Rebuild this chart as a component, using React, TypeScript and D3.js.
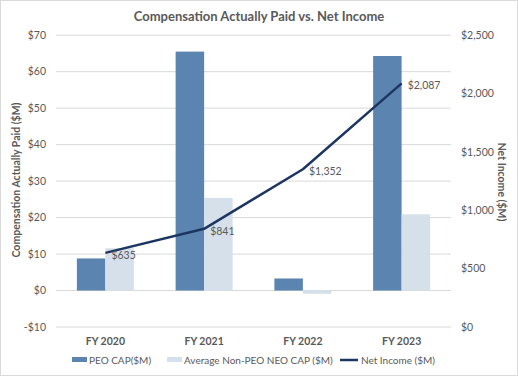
import React from "react";
import * as d3 from "d3";

const categories = ["FY 2020", "FY 2021", "FY 2022", "FY 2023"];
const peoCap = [8.8, 65.5, 3.3, 64.3];
const neoCap = [11.6, 25.4, -0.9, 20.9];
const netIncome = [635, 841, 1352, 2087];
const netIncomeLabels = ["$635", "$841", "$1,352", "$2,087"];
const leftTicks = [-10, 0, 10, 20, 30, 40, 50, 60, 70];
const rightTicks = [0, 500, 1000, 1500, 2000, 2500];
const seriesNames = ["PEO CAP($M)", "Average Non-PEO NEO CAP ($M)", "Net Income ($M)"];

const W = 518, H = 376;
const FONT = "Lato, 'Open Sans', 'Liberation Sans', sans-serif";
const C_PEO = "#5B84B0";
const C_NEO = "#D6E0EB";
const C_LINE = "#1D3661";
const C_TEXT = "#595959";
const C_GRID = "#D9D9D9";

export default function App() {
  const x0 = 56, x1 = 451;
  const yL = d3.scaleLinear().domain([-10, 70]).range([327, 35.2]);
  const yR = d3.scaleLinear().domain([0, 2500]).range([327, 35.2]);
  const xb = d3.scaleBand().domain(categories).range([x0, x1]).paddingInner(0).paddingOuter(0);
  const bw = 28.5;
  const cx = (c: string) => (xb(c) as number) + xb.bandwidth() / 2;
  const line = d3.line<number>().x((_, i) => cx(categories[i])).y((d) => yR(d));

  return (
    <svg width={W} height={H} style={{ position: "absolute", left: 0, top: 0 }} fontFamily={FONT}>
      <rect x={0.5} y={0.5} width={W - 1} height={H - 1} fill="#fff" stroke={C_GRID} />
      <text x={259} y={21} textAnchor="middle" fontSize={13} fontWeight="bold" fill={C_TEXT}>
        Compensation Actually Paid vs. Net Income
      </text>
      {leftTicks.map((t) => (
        <g key={t}>
          <line x1={x0} x2={x1} y1={yL(t)} y2={yL(t)} stroke={C_GRID} strokeWidth={1} />
          <text x={46} y={yL(t)} dy="0.35em" textAnchor="end" fontSize={10.5} fill={C_TEXT}>
            {t < 0 ? `-$${-t}` : `$${t}`}
          </text>
        </g>
      ))}
      {rightTicks.map((t) => (
        <text key={t} x={461} y={yR(t)} dy="0.35em" textAnchor="start" fontSize={10.5} fill={C_TEXT}>
          {"$" + d3.format(",")(t)}
        </text>
      ))}
      <text transform={`translate(20,180) rotate(-90)`} textAnchor="middle" fontSize={10.5} fontWeight="bold" fill={C_TEXT}>
        Compensation Actually Paid ($M)
      </text>
      <text transform={`translate(498,182) rotate(90)`} textAnchor="middle" fontSize={10.5} fontWeight="bold" fill={C_TEXT}>
        Net Income ($M)
      </text>
      {categories.map((c, i) => (
        <g key={c}>
          <rect x={cx(c) - bw} width={bw} y={Math.min(yL(peoCap[i]), yL(0))} height={Math.abs(yL(peoCap[i]) - yL(0))} fill={C_PEO} />
          <rect x={cx(c)} width={bw} y={Math.min(yL(neoCap[i]), yL(0))} height={Math.abs(yL(neoCap[i]) - yL(0))} fill={C_NEO} />
          <text x={cx(c)} y={341} dy="0.35em" textAnchor="middle" fontSize={10.5} fontWeight="bold" fill={C_TEXT}>
            {c}
          </text>
        </g>
      ))}
      <path d={line(netIncome) as string} fill="none" stroke={C_LINE} strokeWidth={2.5} strokeLinejoin="round" />
      {netIncome.map((v, i) => (
        <text key={i} x={cx(categories[i]) + 6} y={yR(v) + 2} dy="0.35em" fontSize={10.5} fill={C_TEXT}>
          {netIncomeLabels[i]}
        </text>
      ))}
      <g>
        <rect x={72} y={357} width={15} height={5} fill={C_PEO} />
        <text x={89} y={360} dy="0.35em" fontSize={10} fill={C_TEXT}>{seriesNames[0]}</text>
        <rect x={167} y={357} width={15} height={5} fill={C_NEO} />
        <text x={184} y={360} dy="0.35em" fontSize={10} fill={C_TEXT}>{seriesNames[1]}</text>
        <line x1={340} x2={358} y1={360} y2={360} stroke={C_LINE} strokeWidth={2.5} />
        <text x={361} y={360} dy="0.35em" fontSize={10} fill={C_TEXT}>{seriesNames[2]}</text>
      </g>
    </svg>
  );
}
